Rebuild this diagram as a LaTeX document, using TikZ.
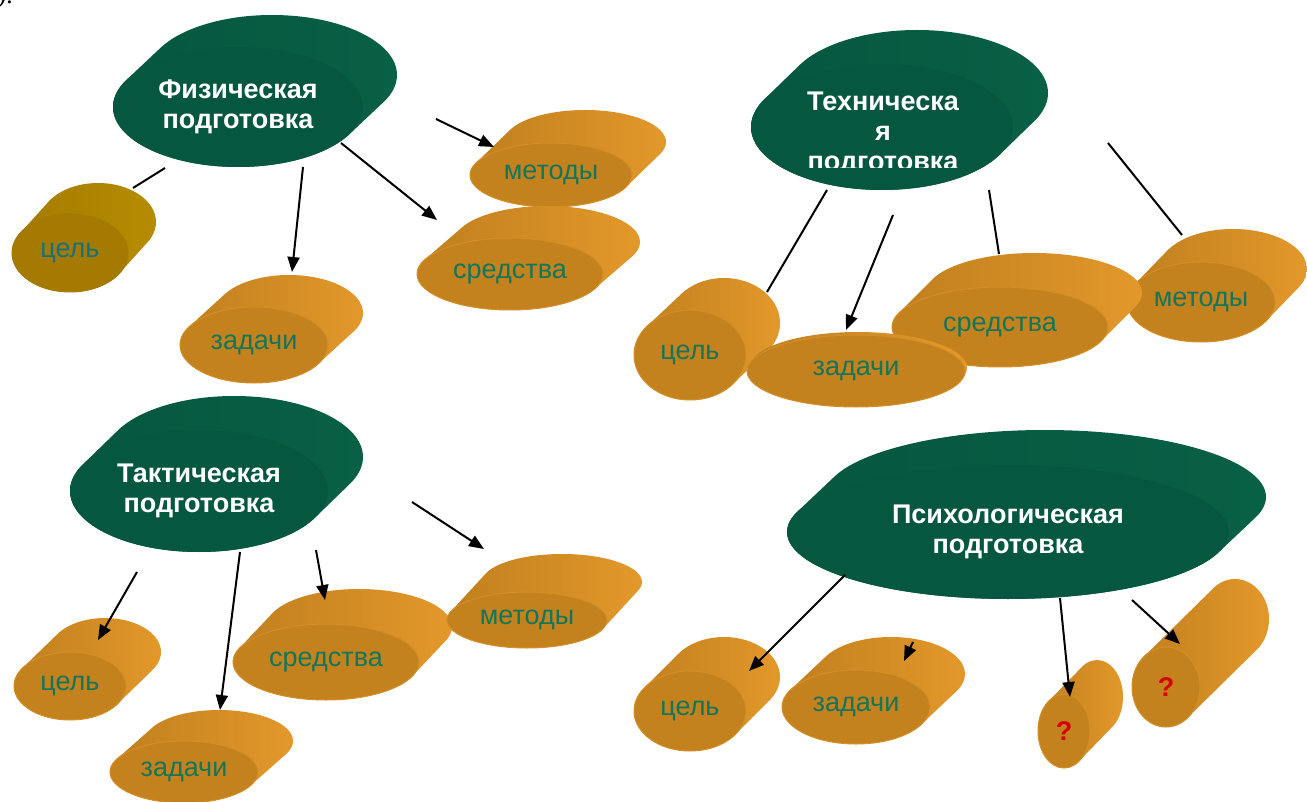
\documentclass[tikz,border=0pt]{standalone}
\usepackage{fontspec}
\setmainfont{Liberation Sans}
\newfontfamily\prevfont{Liberation Serif}
\usetikzlibrary{shapes.geometric,arrows.meta}
\definecolor{grface}{HTML}{06573F}
\definecolor{grdark}{HTML}{044733}
\definecolor{grlight}{HTML}{086045}
\definecolor{orface}{HTML}{C4821F}
\definecolor{ordark}{HTML}{915F1A}
\definecolor{orlight}{HTML}{E3982A}
\definecolor{orrim}{HTML}{D38E27}
\definecolor{olface}{HTML}{A47B00}
\definecolor{oldark}{HTML}{856100}
\definecolor{ollight}{HTML}{B58C00}
\definecolor{lbtext}{HTML}{137559}
\definecolor{oltext}{HTML}{17707D}
\definecolor{qred}{HTML}{D60000}
\newcommand{\slab}[9]{%
	\shade[#8 side] \foreach \k in {0,...,20}{({#2+\k*(#6)/20},{#3+\k*(#7)/20}) ellipse [x radius=#4,y radius=#5]};
	\node[#8 face,minimum width=2*#4,minimum height=2*#5] (#1) at (#2,#3) {#9};
}
\begin{document}
\begin{tikzpicture}[x=1pt,y=-1pt]
	\tikzstyle{gr side}=[left color=grface,middle color=grdark,right color=grlight]
	\tikzstyle{or side}=[left color=orface!90!ordark,middle color=ordark,right color=orlight]
	\tikzstyle{ol side}=[left color=olface,middle color=oldark,right color=ollight]
	\tikzstyle{gr face}=[ellipse,fill=grface,inner sep=0pt,text=white,align=center,font=\fontsize{27}{30}\selectfont\bfseries]
	\tikzstyle{or face}=[ellipse,fill=orface,draw=orrim,line width=1pt,inner sep=0pt,text=lbtext,font=\fontsize{27}{30}\selectfont]
	\tikzstyle{ol face}=[ellipse,fill=olface,draw=olface,line width=1pt,inner sep=0pt,text=oltext,font=\fontsize{27}{30}\selectfont]
	\tikzstyle{ln}=[draw=black,line width=2pt]
	\tikzstyle{arr}=[draw=black,line width=2pt,-{Triangle[length=15pt,width=12pt]}]
	\useasboundingbox (0,0) rectangle (1307,802);
	\node[anchor=base west,inner sep=0pt,font=\fontsize{26}{30}\selectfont\prevfont\itshape] (prev) at (-2,4) {).};

	\slab{fiz}{238}{107}{125}{60}{34}{-32}{gr}{Физическая\\подготовка}
	\slab{fcel}{70}{253}{58}{39}{28}{-31}{ol}{цель}
	\slab{fzad}{254}{345}{74}{38}{35}{-32}{or}{задачи}
	\slab{fmet}{551}{175}{81}{32}{34}{-33}{or}{методы}
	\slab{fsr}{510}{274}{93}{36}{37}{-32}{or}{средства}

	\slab{teh}{882}{127}{131}{63}{35}{-34}{gr}{}
	\begin{scope}
		\clip (740,40) rectangle (1030,168);
		\node[text=white,align=center,font=\fontsize{27}{30}\selectfont\bfseries] (tehtxt) at (883,134) {Техническа\\я\\подготовка};
	\end{scope}
	\slab{tmet}{1201}{302}{74}{40}{32}{-33}{or}{методы}
	\slab{tsr}{1000}{327}{108}{40}{34}{-34}{or}{средства}
	\slab{tcel}{690}{355}{56}{45}{34}{-32}{or}{цель}
	\slab{tzad}{856}{371}{109}{36}{2}{-3}{or}{задачи}

	\slab{tak}{199}{491}{129}{61}{35}{-34}{gr}{Тактическая\\подготовка}
	\slab{kcel}{70}{686}{56}{34}{35}{-34}{or}{цель}
	\slab{kzad}{184}{772}{74}{31}{35}{-31}{or}{задачи}
	\slab{ksr}{326}{662}{93}{38}{33}{-35}{or}{средства}
	\slab{kmet}{527}{620}{80}{28}{35}{-38}{or}{методы}

	\slab{psy}{1008}{532}{221}{67}{37}{-35}{gr}{Психологическая\\подготовка}
	\slab{pcel}{690}{711}{56}{40}{34}{-34}{or}{цель}
	\slab{pzad}{856}{707}{74}{37}{35}{-33}{or}{задачи}
	\slab{pq1}{1064}{731}{26}{37}{33}{-34}{or}{\color{qred}\bfseries ?}
	\slab{pq2}{1166}{687}{34}{40}{69}{-68}{or}{\color{qred}\bfseries ?}

	\draw[ln] ([shift={(-73,61)}]fiz.center) -- ([shift={(63,-65)}]fcel.center);
	\draw[arr] ([shift={(65,60)}]fiz.center) -- ([shift={(38,-73)}]fzad.center);
	\draw[arr] ([shift={(103,36)}]fiz.center) -- ([shift={(-73,-54)}]fsr.center);
	\draw[arr] ([shift={(198,12)}]fiz.center) -- ([shift={(-57,-28)}]fmet.center);

	\draw[ln] ([shift={(-55,63)}]teh.center) -- ([shift={(77,-63)}]tcel.center);
	\draw[arr] ([shift={(11,88)}]teh.center) -- ([shift={(-10,-41)}]tzad.center);
	\draw[ln] ([shift={(107,63)}]teh.center) -- ([shift={(-1,-73)}]tsr.center);
	\draw[ln] ([shift={(226,16)}]teh.center) -- ([shift={(-19,-67)}]tmet.center);

	\draw[arr] ([shift={(-62,81)}]tak.center) -- ([shift={(28,-46)}]kcel.center);
	\draw[arr] ([shift={(41,61)}]tak.center) -- ([shift={(36,-62)}]kzad.center);
	\draw[arr] ([shift={(117,59)}]tak.center) -- ([shift={(-1,-62)}]ksr.center);
	\draw[arr] ([shift={(213,11)}]tak.center) -- ([shift={(-43,-71)}]kmet.center);

	\draw[arr] ([shift={(-163,43)}]psy.center) -- ([shift={(59,-40)}]pcel.center);
	\draw[arr] ([shift={(-95,110)}]psy.center) -- ([shift={(48,-46)}]pzad.center);
	\draw[arr] ([shift={(52,66)}]psy.center) -- ([shift={(6,-34)}]pq1.center);
	\draw[arr] ([shift={(124,68)}]psy.center) -- ([shift={(14,-43)}]pq2.center);
\end{tikzpicture}
\end{document}
